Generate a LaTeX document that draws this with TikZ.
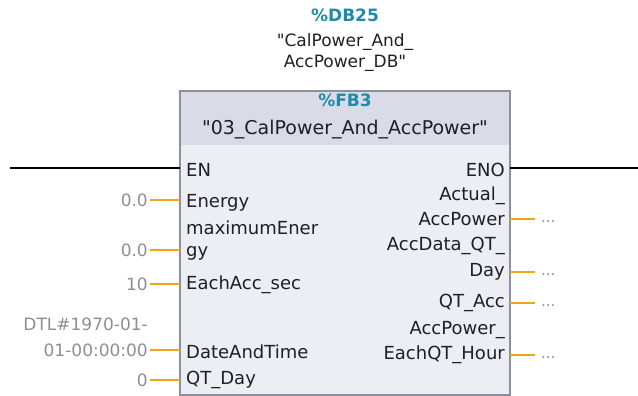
\documentclass[tikz,border=0pt]{standalone}
\usepackage{fontspec}
\setmainfont{DejaVu Sans}
\usepackage{xcolor}
\definecolor{tiateal}{HTML}{1E8BAA}
\definecolor{tiawire}{HTML}{F2A31B}
\definecolor{tiahead}{HTML}{D9DCE6}
\definecolor{tiabody}{HTML}{ECEEF3}
\definecolor{tiaframe}{HTML}{8C909C}
\definecolor{tiatext}{HTML}{1F1F26}
\definecolor{tiaval}{HTML}{8E8E92}
\usetikzlibrary{positioning}
\tikzstyle{pinin}  = [anchor=west, inner sep=0pt, font=\fontsize{18}{20}\selectfont, text=tiatext]
\tikzstyle{pinout} = [anchor=east, inner sep=0pt, font=\fontsize{18}{20}\selectfont, text=tiatext]
\tikzstyle{val}    = [anchor=east, inner sep=0pt, font=\fontsize{17}{19}\selectfont, text=tiaval, align=right]
\tikzstyle{dots}   = [anchor=west, inner sep=0pt, font=\fontsize{15}{17}\selectfont, text=tiaval]
\tikzstyle{title}  = [inner sep=0pt, font=\fontsize{17}{19}\selectfont, text=tiatext]
\tikzstyle{bigtitle} = [inner sep=0pt, font=\fontsize{19}{21}\selectfont, text=tiatext]
\tikzstyle{tag}    = [inner sep=0pt, font=\bfseries\fontsize{17}{19}\selectfont, text=tiateal]
\tikzstyle{wire}   = [tiawire, line width=2.6pt]
\tikzstyle{rail}   = [black, line width=2.2pt]

\begin{document}
\begin{tikzpicture}[x=1pt, y=-1pt]
  \useasboundingbox (0,0) rectangle (638,396);

  % block frame
  \fill[tiabody] (180,145) rectangle (510,395);
  \fill[tiahead] (180,91) rectangle (510,145);
  \draw[tiaframe, line width=1.5pt] (180,91) rectangle (510,395);
  \node[tag]   (db)   at (345,15)  {\%DB25};
  \node[title] (dbn1) at (345,42)  {\textquotedbl CalPower\_And\_};
  \node[title] (dbn2) at (345,63)  {AccPower\_DB\textquotedbl};
  \node[tag]   (fb)   at (345,100) {\%FB3};
  \node[bigtitle] (fbn) at (345,130) {\textquotedbl 03\_CalPower\_And\_AccPower\textquotedbl};
  \coordinate (bl) at (180,91);
  \coordinate (br) at (510,91);

  % inputs
  \node[pinin] (en)   at (186,170) {EN};
  \node[pinin] (ien)  at (186,203) {Energy};
  \node[pinin] (imx1) at (186,228) {maximumEner};
  \node[pinin] (imx2) at (186,253) {gy};
  \node[pinin] (iacc) at (186,285) {EachAcc\_sec};
  \node[pinin] (idt)  at (186,352) {DateAndTime};
  \node[pinin] (iqt)  at (186,380) {QT\_Day};

  \node[val] (ven)  at (148,200) {0.0};
  \node[val] (vmx)  at (148,250) {0.0};
  \node[val] (vacc) at (148,284) {10};
  \node[val] (vdt1) at (148,324) {DTL\#1970-01-};
  \node[val] (vdt2) at (148,350) {01-00:00:00};
  \node[val] (vqt)  at (148,380) {0};

  % outputs
  \node[pinout] (eno)  at (505,170) {ENO};
  \node[pinout] (oac1) at (505,196) {Actual\_};
  \node[pinout] (oac2) at (505,219) {AccPower};
  \node[pinout] (oqd1) at (505,246) {AccData\_QT\_};
  \node[pinout] (oqd2) at (505,272) {Day};
  \node[pinout] (oqa)  at (505,303) {QT\_Acc};
  \node[pinout] (oeh1) at (505,330) {AccPower\_};
  \node[pinout] (oeh2) at (505,355) {EachQT\_Hour};

  \node[dots] (dac) at (541,222) {...};
  \node[dots] (dqd) at (541,275) {...};
  \node[dots] (dqa) at (541,306) {...};
  \node[dots] (deh) at (541,358) {...};

  % power rail
  \coordinate (railL) at (10,168);
  \coordinate (railR) at (638,168);
  \draw[rail] (railL) -- (railL -| bl);
  \draw[rail] (railR -| br) -- (railR);

  % wires
  \draw[wire] ([xshift=2pt]ven.east)  -- (ven.east -| bl);
  \draw[wire] ([xshift=2pt]vmx.east)  -- (vmx.east -| bl);
  \draw[wire] ([xshift=2pt]vacc.east) -- (vacc.east -| bl);
  \draw[wire] ([xshift=2pt]vdt2.east) -- (vdt2.east -| bl);
  \draw[wire] ([xshift=2pt]vqt.east)  -- (vqt.east -| bl);
  \draw[wire] (oac2.east -| br) -- ([xshift=-6pt]dac.west |- oac2.east);
  \draw[wire] (oqd2.east -| br) -- ([xshift=-6pt]dqd.west |- oqd2.east);
  \draw[wire] (oqa.east -| br)  -- ([xshift=-6pt]dqa.west |- oqa.east);
  \draw[wire] (oeh2.east -| br) -- ([xshift=-6pt]deh.west |- oeh2.east);
\end{tikzpicture}
\end{document}
